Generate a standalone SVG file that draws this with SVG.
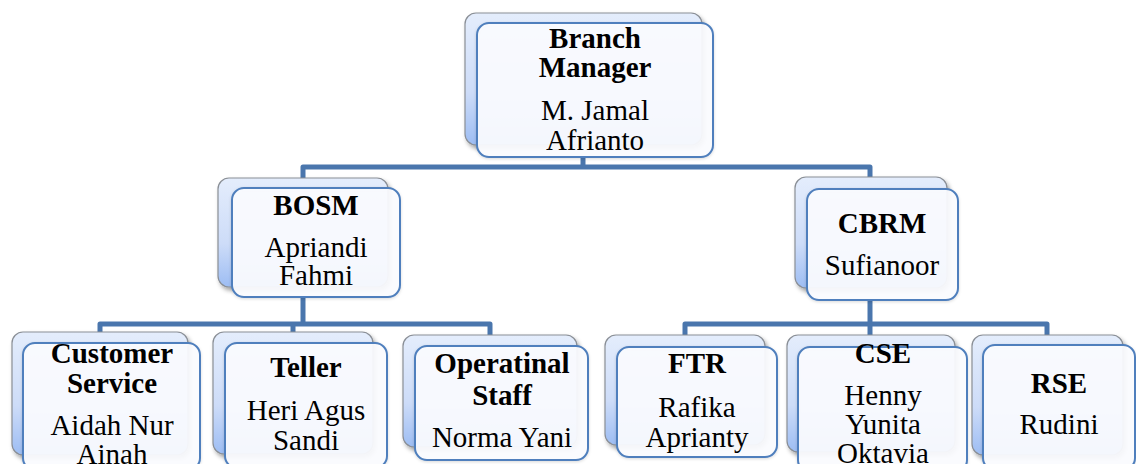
<svg xmlns="http://www.w3.org/2000/svg" width="1136" height="464" viewBox="0 0 1136 464">
<defs>
<linearGradient id="backGrad" x1="0" y1="0" x2="0" y2="1">
<stop offset="0" stop-color="#e4edfc"/>
<stop offset="0.6" stop-color="#cddcf8"/>
<stop offset="1" stop-color="#9dbdf3"/>
</linearGradient>
<filter id="shadow" x="-10%" y="-10%" width="125%" height="130%">
<feDropShadow dx="2" dy="3" stdDeviation="2" flood-color="#000" flood-opacity="0.35"/>
</filter>
<filter id="soft" x="-10%" y="-10%" width="125%" height="130%">
<feDropShadow dx="0" dy="1" stdDeviation="1.5" flood-color="#000" flood-opacity="0.15"/>
</filter>
</defs>
<style>
.back{fill:url(#backGrad);stroke:#8a8f96;stroke-width:1.2;filter:url(#shadow)}
.front{fill:#fbfcff;fill-opacity:0.93;stroke:#4f7fbd;stroke-width:2;filter:url(#soft)}
.conn{fill:none;stroke:#4a76ad;stroke-width:5;stroke-linejoin:round}
text{font-family:"Liberation Serif","Times New Roman",serif;font-size:29px;fill:#000;text-anchor:middle}
.t{font-weight:bold}
</style>
<rect width="1136" height="464" fill="#ffffff"/>
<g id="connectors">
<path class="conn" d="M583,157 V167"/>
<path class="conn" d="M303,178 V167 H870 V177"/>
<path class="conn" d="M303,297 V324"/>
<path class="conn" d="M100,333 V324 H490 V335"/>
<path class="conn" d="M293,324 V332"/>
<path class="conn" d="M870,300 V335"/>
<path class="conn" d="M685,335 V324 H1047 V335"/>
</g>
<g id="branch-manager">
<rect class="back" x="465" y="13" width="237" height="132" rx="11"/>
<rect class="front" x="477" y="23" width="236" height="134" rx="12"/>
<text class="t" x="595" y="48">Branch</text>
<text class="t" x="595" y="77">Manager</text>
<text x="595" y="120">M. Jamal</text>
<text x="595" y="150">Afrianto</text>
</g>
<g id="bosm">
<rect class="back" x="218" y="178" width="170" height="109" rx="11"/>
<rect class="front" x="232" y="188" width="168" height="109" rx="12"/>
<text class="t" x="316" y="215">BOSM</text>
<text x="316" y="257">Apriandi</text>
<text x="316" y="285">Fahmi</text>
</g>
<g id="cbrm">
<rect class="back" x="795" y="177" width="152" height="111" rx="11"/>
<rect class="front" x="807" y="189" width="151" height="111" rx="12"/>
<text class="t" x="882" y="233">CBRM</text>
<text x="882" y="275">Sufianoor</text>
</g>
<g id="customer-service">
<rect class="back" x="12" y="332" width="176" height="123" rx="11"/>
<rect class="front" x="23" y="343" width="177" height="127" rx="12"/>
<text class="t" x="112" y="363">Customer</text>
<text class="t" x="112" y="393">Service</text>
<text x="112" y="435">Aidah Nur</text>
<text x="112" y="464">Ainah</text>
</g>
<g id="teller">
<rect class="back" x="213" y="332" width="160" height="122" rx="11"/>
<rect class="front" x="225" y="343" width="162" height="125" rx="12"/>
<text class="t" x="306" y="377">Teller</text>
<text x="306" y="420">Heri Agus</text>
<text x="306" y="450">Sandi</text>
</g>
<g id="operatinal-staff">
<rect class="back" x="403" y="335" width="174" height="112" rx="11"/>
<rect class="front" x="415" y="346" width="173" height="114" rx="12"/>
<text class="t" x="502" y="373">Operatinal</text>
<text class="t" x="502" y="405">Staff</text>
<text x="502" y="447">Norma Yani</text>
</g>
<g id="ftr">
<rect class="back" x="605" y="335" width="160" height="110" rx="11"/>
<rect class="front" x="617" y="347" width="160" height="110" rx="12"/>
<text class="t" x="697" y="373">FTR</text>
<text x="697" y="417">Rafika</text>
<text x="697" y="447">Aprianty</text>
</g>
<g id="cse">
<rect class="back" x="787" y="335" width="168" height="117" rx="11"/>
<rect class="front" x="798" y="347" width="169" height="125" rx="12"/>
<text class="t" x="883" y="363">CSE</text>
<text x="883" y="405">Henny</text>
<text x="883" y="434">Yunita</text>
<text x="883" y="463">Oktavia</text>
</g>
<g id="rse">
<rect class="back" x="972" y="335" width="151" height="120" rx="11"/>
<rect class="front" x="983" y="345" width="152" height="125" rx="12"/>
<text class="t" x="1059" y="393">RSE</text>
<text x="1059" y="434">Rudini</text>
</g>
</svg>
